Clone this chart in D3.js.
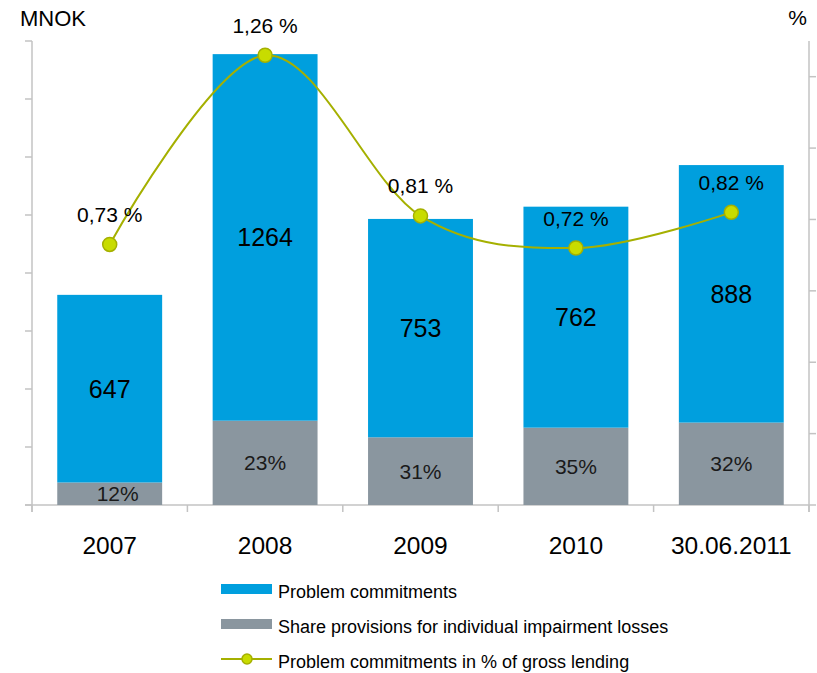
<!DOCTYPE html>
<html>
<head>
<meta charset="utf-8">
<script src="https://cdn.jsdelivr.net/npm/d3@7"></script>
<style>
  html, body { margin: 0; padding: 0; background: #fff; }
  svg { display: block; font-family: "Liberation Sans", Arial, sans-serif; }
</style>
</head>
<body>
<svg id="chart" width="817" height="673"></svg>
<script>
// Problem commitments (MNOK) per period
const categories = ["2007", "2008", "2009", "2010", "30.06.2011"];
const problemCommitments = [647, 1264, 753, 762, 888];
// Share of provisions for individual impairment losses, in percent
const provisionShare = [12, 23, 31, 35, 32];
// Problem commitments as % of gross lending
const grossLendingPct = [0.73, 1.26, 0.81, 0.72, 0.82];
const grossLendingLabels = ["0,73 %", "1,26 %", "0,81 %", "0,72 %", "0,82 %"];
// Axis tick values
const leftTicks = [0, 200, 400, 600, 800, 1000, 1200, 1400, 1600];
const rightTicks = [0, 0.2, 0.4, 0.6, 0.8, 1.0, 1.2];

const legendItems = [
  { label: "Problem commitments", kind: "bar", color: "#009FDE" },
  { label: "Share provisions for individual impairment losses", kind: "bar", color: "#8A969F" },
  { label: "Problem commitments in % of gross lending", kind: "line", color: "#A5B000" }
];

(function () {
  const blue = "#009FDE", grey = "#8A969F", lineColor = "#A5B000", markerFill = "#C8DC00";
  const axisColor = "#C3C3C3";

  const svg = d3.select("#chart");
  const plotLeft = 32, plotRight = 809, plotTop = 41, plotBottom = 505;

  const x = d3.scaleBand().domain(categories).range([plotLeft, plotRight])
    .paddingInner(0.325).paddingOuter(0.1625);
  const y = d3.scaleLinear().domain([0, 1600]).range([plotBottom, plotTop]);
  const y2 = d3.scaleLinear().domain([0, 1.3]).range([plotBottom, plotTop]);

  const rows = categories.map((c, i) => {
    const provision = problemCommitments[i] * provisionShare[i] / 100;
    return { cat: c, value: problemCommitments[i], share: provisionShare[i], provision, pct: grossLendingPct[i], pctLabel: grossLendingLabels[i] };
  });

  // Axes
  const gAx = svg.append("g").attr("stroke", axisColor).attr("stroke-width", 1.5).attr("fill", "none");
  gAx.append("line").attr("x1", plotLeft).attr("x2", plotLeft).attr("y1", y(1600)).attr("y2", plotBottom + 7);
  gAx.selectAll(".lt").data(leftTicks).join("line")
    .attr("x1", plotLeft - 7).attr("x2", plotLeft).attr("y1", d => y(d)).attr("y2", d => y(d));
  gAx.append("line").attr("x1", plotRight).attr("x2", plotRight).attr("y1", y2(1.3)).attr("y2", plotBottom + 7);
  gAx.selectAll(".rt").data(rightTicks).join("line")
    .attr("x1", plotRight).attr("x2", plotRight + 7).attr("y1", d => y2(d)).attr("y2", d => y2(d));
  gAx.append("line").attr("x1", plotLeft - 7).attr("x2", plotRight).attr("y1", plotBottom).attr("y2", plotBottom);
  // category boundaries
  const bounds = [plotLeft].concat(categories.map((c, i) => plotLeft + x.step() * (i + 1)));
  gAx.selectAll(".ct").data(bounds).join("line")
    .attr("x1", d => d).attr("x2", d => d).attr("y1", plotBottom).attr("y2", plotBottom + 7);

  // Stacked bars: provisions at the bottom, problem commitments above
  const bars = svg.append("g");
  bars.selectAll(".prov").data(rows).join("rect").attr("class", "prov")
    .attr("x", d => x(d.cat)).attr("width", x.bandwidth())
    .attr("y", d => y(d.provision)).attr("height", d => y(0) - y(d.provision))
    .attr("fill", grey);
  bars.selectAll(".pc").data(rows).join("rect").attr("class", "pc")
    .attr("x", d => x(d.cat)).attr("width", x.bandwidth())
    .attr("y", d => y(d.provision + d.value)).attr("height", d => y(d.provision) - y(d.provision + d.value))
    .attr("fill", blue);

  // Bar labels
  bars.selectAll(".pcl").data(rows).join("text").attr("class", "pcl")
    .attr("x", d => x(d.cat) + x.bandwidth() / 2)
    .attr("y", d => (y(d.provision) + y(d.provision + d.value)) / 2)
    .attr("text-anchor", "middle").attr("dominant-baseline", "central")
    .attr("font-size", 25).attr("fill", "#000").text(d => d.value);
  bars.selectAll(".provl").data(rows).join("text").attr("class", "provl")
    .attr("x", d => x(d.cat) + x.bandwidth() / 2 + (d.cat === "2007" ? 8 : 0))
    .attr("y", d => (y(0) + y(d.provision)) / 2)
    .attr("text-anchor", "middle").attr("dominant-baseline", "central")
    .attr("font-size", 21).attr("fill", "#1a1a1a").text(d => d.share + "%");

  // Smoothed % line
  const cx = d => x(d.cat) + x.bandwidth() / 2;
  const line = d3.line().x(cx).y(d => y2(d.pct)).curve(d3.curveCardinal.tension(0));
  svg.append("path").datum(rows).attr("d", line)
    .attr("fill", "none").attr("stroke", lineColor).attr("stroke-width", 2);
  svg.append("g").selectAll("circle").data(rows).join("circle")
    .attr("cx", cx).attr("cy", d => y2(d.pct)).attr("r", 7)
    .attr("fill", markerFill).attr("stroke", lineColor).attr("stroke-width", 1.5);
  svg.append("g").selectAll("text").data(rows).join("text")
    .attr("x", cx).attr("y", d => y2(d.pct) - 30)
    .attr("text-anchor", "middle").attr("dominant-baseline", "central")
    .attr("font-size", 21).attr("fill", "#000").text(d => d.pctLabel);

  // Category labels
  svg.append("g").selectAll("text").data(categories).join("text")
    .attr("x", d => x(d) + x.bandwidth() / 2).attr("y", 545)
    .attr("text-anchor", "middle").attr("dominant-baseline", "central")
    .attr("font-size", 24.5).attr("fill", "#000").text(d => d);

  // Axis titles
  svg.append("text").attr("x", 20).attr("y", 26).attr("font-size", 22).attr("fill", "#000").text("MNOK");
  svg.append("text").attr("x", 807).attr("y", 25).attr("text-anchor", "end").attr("font-size", 21).attr("fill", "#000").text("%");

  // Legend
  const lg = svg.append("g").attr("transform", "translate(221,589)");
  legendItems.forEach((item, i) => {
    const g = lg.append("g").attr("transform", `translate(0,${i * 35})`);
    if (item.kind === "bar") {
      g.append("rect").attr("x", 0).attr("y", -5).attr("width", 51).attr("height", 10).attr("fill", item.color);
    } else {
      g.append("line").attr("x1", 0).attr("x2", 51).attr("y1", 0).attr("y2", 0).attr("stroke", item.color).attr("stroke-width", 2);
      g.append("circle").attr("cx", 26).attr("cy", 0).attr("r", 5).attr("fill", markerFill).attr("stroke", item.color).attr("stroke-width", 1.5);
    }
    g.append("text").attr("x", 57).attr("y", 3).attr("dominant-baseline", "central")
      .attr("font-size", 18).attr("fill", "#000").text(item.label);
  });
})();
</script>
</body>
</html>
